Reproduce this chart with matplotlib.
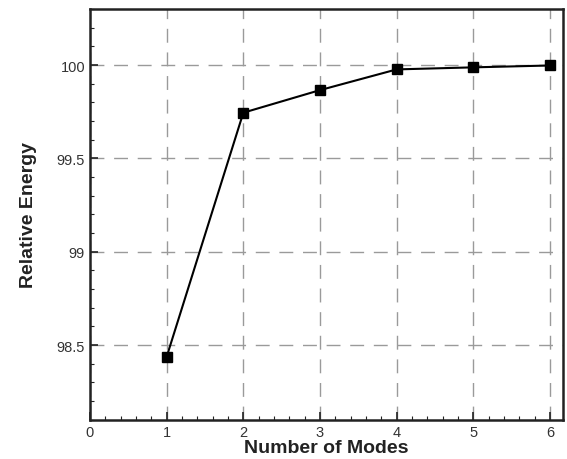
import numpy as np
import matplotlib
matplotlib.use('Agg')
import matplotlib.pyplot as plt
from matplotlib.ticker import MultipleLocator

plt.rcParams['font.family'] = ['Liberation Sans', 'DejaVu Sans']

# Cumulative relative energy captured by the leading modes
modes = [1, 2, 3, 4, 5, 6]
energy = [98.437, 99.745, 99.866, 99.977, 99.988, 99.998]

fig = plt.figure(figsize=(5.67, 4.60), dpi=100)
ax = fig.add_axes([0.1587, 0.0854, 0.8343, 0.8926])

ax.plot(modes, energy, '-', color='black', lw=1.5, marker='s', ms=7.5,
        mfc='black', mec='black', zorder=5)

ax.set_xlim(0, 6.17)
ax.set_ylim(98.10, 100.30)
ax.xaxis.set_major_locator(MultipleLocator(1))
ax.xaxis.set_minor_locator(MultipleLocator(0.2))
ax.yaxis.set_major_locator(MultipleLocator(0.5))
ax.yaxis.set_minor_locator(MultipleLocator(0.1))
ax.set_yticks([98.5, 99, 99.5, 100])
ax.set_yticklabels(['98.5', '99', '99.5', '100'])

ax.tick_params(which='both', direction='in', top=False, right=False,
               labelsize=10.5, labelcolor='#333333', color='#222222')
ax.tick_params(which='major', length=6, width=1.2)
ax.tick_params(which='minor', length=3, width=0.8)

ax.grid(True, which='major', color='#9a9a9a', ls=(0, (10, 7)), lw=1.0)
for s in ax.spines.values():
    s.set_linewidth(1.8)
    s.set_color('#222222')

ax.set_xlabel('Number of Modes', fontsize=14, fontweight='bold',
              color='#222222', labelpad=0)
ax.set_ylabel('Relative Energy', fontsize=14, fontweight='bold',
              color='#222222', labelpad=14)

fig.savefig('out.png', dpi=100)
